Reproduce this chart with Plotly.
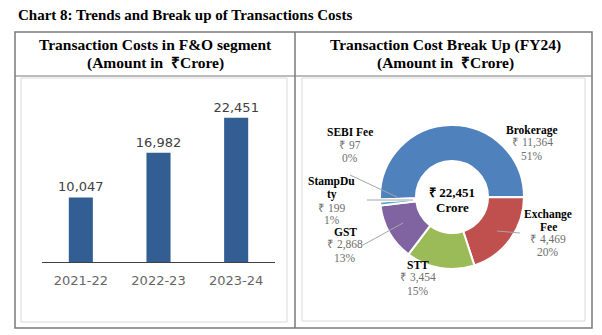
import plotly.graph_objects as go

# ---- data -------------------------------------------------------------
years = ["2021-22", "2022-23", "2023-24"]
total_costs = [10047, 16982, 22451]

components = ["Brokerage", "Exchange Fee", "STT", "GST", "StampDuty", "SEBI Fee"]
component_values = [11364, 4469, 3454, 2868, 199, 97]
component_colors = ["#4F81BD", "#C0504D", "#9BBB59", "#8064A2", "#4BACC6", "#F79646"]

W, H = 602, 335


def fx(x):
    return x / W


def fy(y):
    return 1 - y / H


fig = go.Figure()

# ---- left panel: bar chart -------------------------------------------
fig.add_trace(go.Bar(
    x=years, y=total_costs, width=0.31,
    marker=dict(color="#335E93", line=dict(width=0)),
    texttemplate="%{y:,.0f}", textposition="outside", cliponaxis=False,
    constraintext="none",
    textfont=dict(family="DejaVu Sans", size=13, color="#404040"),
    xaxis="x", yaxis="y", showlegend=False,
))

# ---- right panel: donut ----------------------------------------------
total = sum(component_values)
fig.add_trace(go.Pie(
    labels=components, values=component_values, sort=False,
    direction="clockwise", rotation=-92, hole=0.5,
    marker=dict(colors=component_colors, line=dict(color="white", width=2)),
    textinfo="none", showlegend=False,
    domain=dict(x=[fx(380), fx(524)], y=[fy(269), fy(125)]),
))

layout_shapes = []
annotations = []

# outer table frame, header separator and middle divider
frame = "#7A7A7A"
layout_shapes.append(dict(type="rect", xref="paper", yref="paper",
                          x0=fx(15), x1=fx(592), y0=fy(328), y1=fy(32),
                          line=dict(color=frame, width=1.5)))
layout_shapes.append(dict(type="line", xref="paper", yref="paper",
                          x0=fx(15), x1=fx(592), y0=fy(76), y1=fy(76),
                          line=dict(color=frame, width=1.2)))
layout_shapes.append(dict(type="line", xref="paper", yref="paper",
                          x0=fx(295), x1=fx(295), y0=fy(328), y1=fy(32),
                          line=dict(color=frame, width=1.5)))
# inner chart-area borders
for x0, x1, y0, y1 in [(21, 287, 78, 322), (302, 585, 78, 321)]:
    layout_shapes.append(dict(type="rect", xref="paper", yref="paper",
                              x0=fx(x0), x1=fx(x1), y0=fy(y1), y1=fy(y0),
                              line=dict(color="#D9D9D9", width=1)))

serif = "Liberation Serif"


def text(x, y, s, size=12, color="#000000", anchor="center", bold=False):
    if bold:
        s = f"<b>{s}</b>"
    annotations.append(dict(xref="paper", yref="paper", x=fx(x), y=fy(y),
                            text=s, showarrow=False, xanchor=anchor,
                            yanchor="middle",
                            font=dict(family=serif, size=size, color=color)))


# titles
text(16, 15, "Chart 8: Trends and Break up of Transactions Costs", size=15,
     anchor="left", bold=True)
text(155, 45, "Transaction Costs in F&amp;O segment", size=15.5, bold=True)
text(155, 63, "(Amount in  ₹Crore)", size=15.5, bold=True)
text(445, 45, "Transaction Cost Break Up (FY24)", size=15.5, bold=True)
text(445, 63, "(Amount in  ₹Crore)", size=15.5, bold=True)

# donut centre
text(452, 192, f"₹ {total:,}", size=13, bold=True)
text(452, 207, "Crore", size=13, bold=True)

# donut labels: name lines (bold), amount, share
label_pos = {
    "Brokerage": (532, 130, ["Brokerage"]),
    "Exchange Fee": (548, 214, ["Exchange", "Fee"]),
    "STT": (418, 265, ["STT"]),
    "GST": (345, 232, ["GST"]),
    "StampDuty": (332, 182, ["StampDu", "ty"]),
    "SEBI Fee": (350, 132, ["SEBI Fee"]),
}
for name, val in zip(components, component_values):
    x, y, lines = label_pos[name]
    for ln in lines:
        text(x, y, ln, size=11.5, bold=True)
        y += 12.8
    text(x, y, f"₹ {val:,}", size=11.5, color="#6E6E6E")
    y += 12.8
    text(x, y, f"{round(val / total * 100)}%", size=11.5, color="#6E6E6E")

# leader lines
for x0, y0, x1, y1 in [(350, 175, 397, 197), (367, 200, 413, 200),
                       (363, 245, 403, 223), (497, 231, 520, 233)]:
    layout_shapes.append(dict(type="line", xref="paper", yref="paper",
                              x0=fx(x0), x1=fx(x1), y0=fy(y0), y1=fy(y1),
                              line=dict(color="#A6A6A6", width=1)))

fig.update_layout(
    width=W, height=H, margin=dict(l=0, r=0, t=0, b=0),
    paper_bgcolor="white", plot_bgcolor="white",
    shapes=layout_shapes, annotations=annotations,
    xaxis=dict(domain=[fx(42), fx(275)], range=[-0.5, 2.5], type="category",
               showline=True, linecolor="#404040", linewidth=1.3,
               ticks="outside", ticklen=6, tickcolor="rgba(0,0,0,0)",
               tickfont=dict(family="DejaVu Sans", size=13, color="#666666"),
               showgrid=False, zeroline=False, fixedrange=True),
    yaxis=dict(domain=[fy(262), fy(101.25)], range=[0, 25000], visible=False,
               fixedrange=True),
    bargap=0.2,
)

fig.write_html("out.html")
